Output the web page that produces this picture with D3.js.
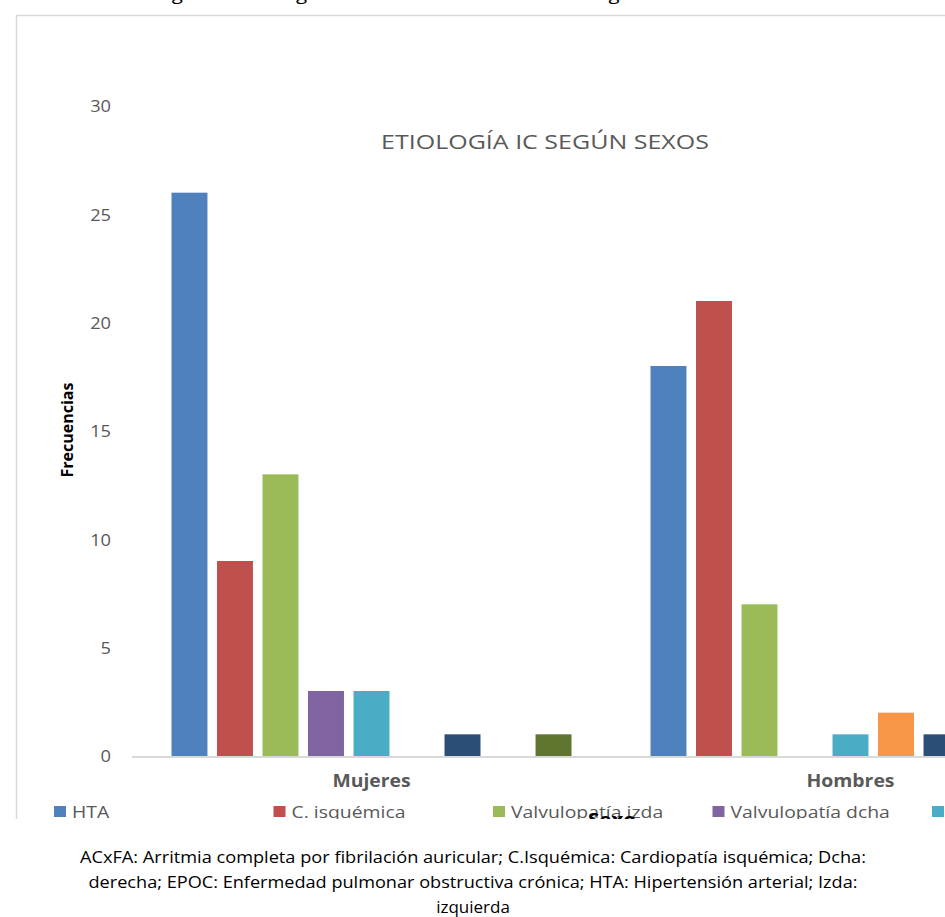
<!DOCTYPE html>
<html><head><meta charset="utf-8">
<script src="https://cdn.jsdelivr.net/npm/d3@7"></script>
<style>body{margin:0;background:#fff;} svg{display:block;}</style>
</head><body>
<svg id="c" width="945" height="917"></svg>
<script>
const categories = ["Mujeres", "Hombres"];
const series = ["HTA", "C. isquémica", "Valvulopatía izda", "Valvulopatía dcha", "ACxFA", "EPOC", "Miocardiopatía dilatada", "Miocardiopatía hipertrófica", "Otras"];
const mujeres = [26, 9, 13, 3, 3, 0, 1, 0, 1];
const hombres = [18, 21, 7, 0, 1, 2, 1, 0, 0];
const colors = ["#4F81BD", "#C0504D", "#9BBB59", "#8064A2", "#4BACC6", "#F79646", "#2C4D75", "#772C2A", "#5F7530"];
const yTicks = [0, 5, 10, 15, 20, 25, 30];
const chartTitle = "ETIOLOGÍA IC SEGÚN SEXOS";
const yTitle = "Frecuencias";
const xTitle = "Sexo";
const figTitle = "Figura 6. Etiología de la insuficiencia cardiaca según el sexo";
const caption = [
  "ACxFA: Arritmia completa por fibrilación auricular; C.Isquémica: Cardiopatía isquémica; Dcha:",
  "derecha; EPOC: Enfermedad pulmonar obstructiva crónica; HTA: Hipertensión arterial; Izda:",
  "izquierda"
];
const values = {Mujeres: mujeres, Hombres: hombres};

const svg = d3.select("#c");
const font = "'Open Sans', 'Noto Sans', sans-serif";
const grey = "#595959";
const K = 1.14; // horizontal stretch of the chart texts

function stretch(sel, k) {
  sel.each(function() {
    const w = this.getComputedTextLength();
    d3.select(this).attr("textLength", w * k).attr("lengthAdjust", "spacingAndGlyphs");
  });
}

// figure title (cut at top)
svg.append("text").attr("x", 436).attr("y", 0).attr("text-anchor", "middle")
  .attr("font-family", font).attr("font-size", 17).attr("fill", "#000")
  .attr("textLength", 560).attr("lengthAdjust", "spacingAndGlyphs").text(figTitle);

// chart clip
svg.append("defs").append("clipPath").attr("id", "clip")
  .append("rect").attr("x", 0).attr("y", 0).attr("width", 945).attr("height", 819);
const g = svg.append("g").attr("clip-path", "url(#clip)");

// chart border
g.append("rect").attr("x", 16.5).attr("y", 15.5).attr("width", 1150).attr("height", 900)
  .attr("fill", "#fff").attr("stroke", "#d9d9d9").attr("stroke-width", 1.5);

const plotL = 132, plotR = 1090, plotT = 106, plotB = 756;
const gap = 79 / 479;
const x0 = d3.scaleBand().domain(categories).range([plotL, plotR]).paddingInner(gap).paddingOuter(gap / 2);
const x1 = d3.scaleBand().domain(series).range([0, x0.bandwidth()]).paddingInner(0.21).paddingOuter(0);
const y = d3.scaleLinear().domain([0, 30]).range([plotB, plotT]);

// y axis labels
const yAxis = d3.axisLeft(y).tickValues(yTicks).tickSize(0).tickPadding(0);
const ya = g.append("g").attr("transform", `translate(111,0)`).call(yAxis);
ya.select(".domain").remove();
ya.selectAll("text").attr("font-family", font).attr("font-size", 16).attr("fill", grey).attr("dy", "0.36em");
stretch(ya.selectAll("text"), K);

// bars
const groups = g.append("g").selectAll("g").data(categories).join("g")
  .attr("transform", d => `translate(${x0(d)},0)`);
groups.selectAll("rect").data(c => series.map((s, i) => ({s, i, v: values[c][i]}))).join("rect")
  .attr("x", d => x1(d.s)).attr("width", x1.bandwidth())
  .attr("y", d => y(d.v)).attr("height", d => y(0) - y(d.v))
  .attr("fill", (d) => colors[d.i]);

// x axis line
g.append("line").attr("x1", plotL).attr("x2", plotR).attr("y1", plotB + 1).attr("y2", plotB + 1)
  .attr("stroke", "#d9d9d9").attr("stroke-width", 2);

// category labels
const xAxis = d3.axisBottom(x0).tickSize(0).tickPadding(0);
const xa = g.append("g").attr("transform", `translate(0,${plotB})`).call(xAxis);
xa.select(".domain").remove();
xa.selectAll("text").attr("y", 31).attr("dy", 0).attr("font-family", font).attr("font-size", 17)
  .attr("font-weight", "bold").attr("fill", grey);
stretch(xa.selectAll("text"), K);

// chart title
const t = g.append("text").attr("x", 545).attr("y", 149).attr("text-anchor", "middle")
  .attr("font-family", font).attr("font-size", 20.5).attr("fill", grey).text(chartTitle);
stretch(t, 1.22);

// y title
g.append("text").attr("transform", "translate(73,430) rotate(-90)").attr("text-anchor", "middle")
  .attr("font-family", font).attr("font-size", 16).attr("font-weight", "bold").attr("fill", "#000")
  .text(yTitle);

// legend
const leg = g.append("g").selectAll("g").data(series).join("g")
  .attr("transform", (d, i) => `translate(${54 + (i % 5) * 219.5},${806 + Math.floor(i / 5) * 26})`);
leg.append("rect").attr("width", 12).attr("height", 11).attr("fill", (d, i) => colors[i]);
const lt = leg.append("text").attr("x", 18).attr("y", 11.5).attr("font-family", font).attr("font-size", 17)
  .attr("fill", grey).text(d => d);
stretch(lt, K);

// x title (mostly clipped)
const xt = g.append("text").attr("x", 612).attr("y", 826).attr("text-anchor", "middle")
  .attr("font-family", font).attr("font-size", 18).attr("font-weight", "bold").attr("fill", "#000")
  .text(xTitle);
stretch(xt, K);

// caption
const capW = [786, 769, 0];
svg.append("g").selectAll("text").data(caption).join("text")
  .attr("x", 473).attr("y", (d, i) => 863 + i * 25).attr("text-anchor", "middle")
  .attr("font-family", font).attr("font-size", 17).attr("fill", "#000")
  .each(function(d, i) { if (capW[i]) d3.select(this).attr("textLength", capW[i]).attr("lengthAdjust", "spacingAndGlyphs"); })
  .text(d => d);
</script>
</body></html>
